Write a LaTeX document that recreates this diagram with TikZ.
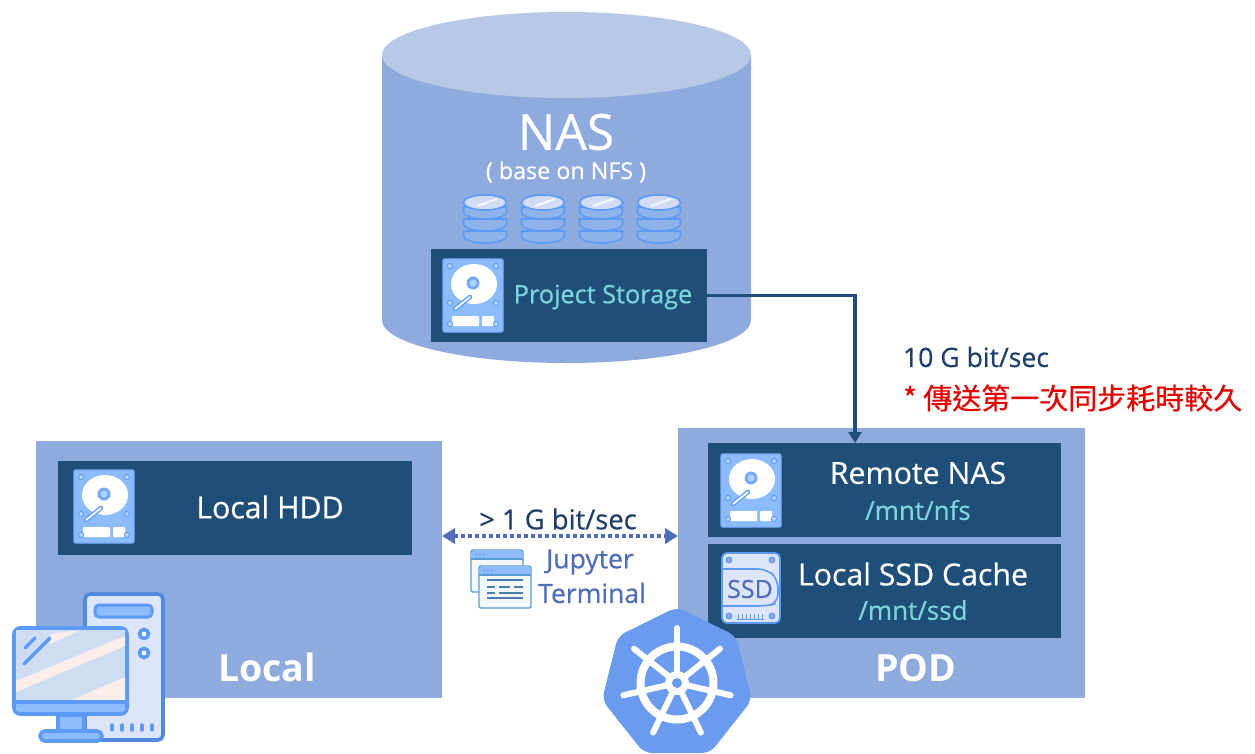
\documentclass[tikz,border=0pt]{standalone}
\usepackage{fontspec}
\setmainfont{Open Sans}
\newfontfamily\semi{Open Sans}[FakeBold=0.5]
\newfontfamily\cjk{Noto Sans CJK TC}[FakeBold=0.4]
\usetikzlibrary{arrows.meta}
\definecolor{boxblue}{HTML}{8FAADC}
\definecolor{topblue}{HTML}{B8C9E8}
\definecolor{darkbox}{HTML}{1F4E79}
\definecolor{cyantxt}{HTML}{7DD6DC}
\definecolor{iconblue}{HTML}{5B9BF5}
\definecolor{iconfill}{HTML}{8CBCFB}
\definecolor{pale}{HTML}{DDE5F8}
\definecolor{kblue}{HTML}{6A9BEE}
\definecolor{navy}{HTML}{1F3F68}
\definecolor{jup}{HTML}{4F6DB8}
\definecolor{winline}{HTML}{5A9BD5}
\definecolor{screenblue}{HTML}{CFDDF3}
\definecolor{stripe}{HTML}{FBEDE9}
\tikzset{
  panel/.style={fill=boxblue,draw=none,inner sep=0,outer sep=0},
  darkpanel/.style={fill=darkbox,draw=none,inner sep=0,outer sep=0},
  whitelabel/.style={text=white,inner sep=0,font=\semi\fontsize{30.3}{34}\selectfont},
  cyanlabel/.style={text=cyantxt,inner sep=0,font=\semi\fontsize{26}{30}\selectfont},
  biglabel/.style={text=white,inner sep=0,font=\bfseries\fontsize{37.5}{42}\selectfont},
  linklabel/.style={text=navy,inner sep=0,font=\semi\fontsize{26.6}{30}\selectfont},
  juplabel/.style={text=jup,inner sep=0,font=\semi\fontsize{26.5}{30}\selectfont},
  link/.style={draw=darkbox,line width=3.2pt,-{Triangle[length=11pt,width=13pt]}},
  dotlink/.style={draw=jup,line width=3.6pt,dash pattern=on 3.6pt off 3.4pt,
     {Triangle[length=13pt,width=15pt]}-{Triangle[length=13pt,width=15pt]}},
  pics/hddicon/.style={code={
    \fill[iconfill,draw=iconblue!80!white,line width=1.4pt,rounded corners=2pt] (0,0) rectangle (60,73);
    \fill[white] (31,25) ellipse [x radius=23,y radius=20];
    \fill[iconblue!85!white] (30,24) circle (6.5);
    \fill[iconfill!70!white] (30,24) circle (3.5);
    \draw[iconblue,line width=4.5pt,line cap=round] (27,38) -- (12,50);
    \draw[white,line width=1.8pt,line cap=round] (27,38) -- (12,50);
    \fill[white,rounded corners=1pt] (9,57) rectangle (36,67);
    \fill[white,rounded corners=1pt] (39,57) rectangle (51,67);
    \foreach \p in {(7,7),(53,7),(7,44),(53,44),(7,65),(53,65)}
      \draw[iconblue,fill=iconfill!60!white,line width=1pt] \p circle (2.6);
  }},
  pics/ssdicon/.style={code={
    \fill[pale,draw=iconblue,line width=1.8pt,rounded corners=5pt] (0,0) rectangle (58,70);
    \draw[iconblue,line width=1.6pt,rounded corners=9pt] (0,16) -- (45,16) -- (56,26) -- (56,50) -- (45,53) -- (0,53);
    \node[inner sep=0,text=jup,font=\semi\fontsize{25}{28}\selectfont] (ssdtext) at (28,36) {SSD};
    \foreach \p in {(7,7),(50,7),(7,63),(50,63)}
      \draw[iconblue,fill=boxblue,line width=1.2pt] \p circle (2.8);
    \foreach \i in {0,...,6}
      \draw[iconblue,line width=1pt] (16+\i*4,61) -- (16+\i*4,66);
    \draw[iconblue,line width=1pt] (15,66) -- (42,66);
  }},
  pics/dbicon/.style={code={
    \foreach \yy in {36,24,12}{
      \fill[iconfill!45!boxblue,draw=iconblue,line width=1.6pt] (-21.5,\yy) -- (-21.5,\yy+5)
        arc[start angle=180,end angle=0,x radius=21.5,y radius=7] -- (21.5,\yy) -- cycle;
    }
    \fill[pale!85!boxblue,draw=iconblue,line width=1.6pt] (0,7.5) ellipse [x radius=21.5,y radius=7.5];
    \draw[white!90!boxblue,line width=2pt] (-8,11) -- (12,4);
  }},
  pics/winicon/.style={code={
    \fill[white!92!winline,draw=winline,line width=1.4pt,rounded corners=1.5pt] (0,0) rectangle (52,42);
    \draw[winline,line width=1.4pt] (0,9) -- (52,9);
    \fill[iconfill] (0.7,0.7) rectangle (51.3,8.4);
    \foreach \i in {5,9,13} \fill[winline] (\i,4.5) circle (0.9);
  }},
}
\begin{document}
\begin{tikzpicture}[x=1pt,y=-1pt]
\useasboundingbox (0,0) rectangle (1255,753);
\clip (0,0) rectangle (1255,753);
\fill[white] (0,0) rectangle (1255,753);

% NAS cylinder
\fill[boxblue] (382,55) -- (382,320) arc[start angle=180,end angle=0,x radius=184.5,y radius=43] -- (751,55) -- cycle;
\fill[topblue] (566.5,55) ellipse [x radius=184.5,y radius=43];
\node[text=white,inner sep=0,font=\semi\fontsize{49.7}{56}\selectfont] (nastitle) at (566,132) {NAS};
\node[text=white,inner sep=0,font=\semi\fontsize{23.3}{27}\selectfont] (nassub) at (566,172) {( base on NFS )};
\pic (dbA) at (485,195) {dbicon};
\pic (dbB) at (543,195) {dbicon};
\pic (dbC) at (601,195) {dbicon};
\pic (dbD) at (659,195) {dbicon};
\node[darkpanel,minimum width=276pt,minimum height=93pt] (proj) at (569,295.5) {};
\pic (hddA) at (443,259) {hddicon};
\node[text=cyantxt,inner sep=0,font=\semi\fontsize{25.3}{29}\selectfont] (projlabel) at (603,297) {Project Storage};

% Local panel
\node[panel,minimum width=406pt,minimum height=257pt] (local) at (239,569.5) {};
\node[darkpanel,minimum width=354pt,minimum height=94pt] (hddbox) at (235,508) {};
\pic (hddB) at (74,470) {hddicon};
\node[whitelabel] (hddlabel) at (270,507) {Local HDD};
\node[biglabel] (locallabel) at (267,667) {Local};

% POD panel
\node[panel,minimum width=407pt,minimum height=270pt] (pod) at (881.5,563) {};
\node[darkpanel,minimum width=353pt,minimum height=94pt] (remote) at (884.5,490) {};
\node[darkpanel,minimum width=353pt,minimum height=94pt] (cache) at (884.5,591) {};
\pic (hddC) at (721,454) {hddicon};
\pic (ssd) at (722,553) {ssdicon};
\node[whitelabel] (remotelabel) at (918,473) {Remote NAS};
\node[cyanlabel] (remotepath) at (918,510) {/mnt/nfs};
\node[whitelabel] (cachelabel) at (913,574) {Local SSD Cache};
\node[cyanlabel] (cachepath) at (913,610) {/mnt/ssd};
\node[biglabel] (podlabel) at (916,668) {POD};

% Connectors
\coordinate (linkin) at (855,443);
\coordinate (localport) at (442,536);
\coordinate (podport) at (678,536);
\draw[link] (proj.east) -| (linkin);
\draw[dotlink] (localport) -- (podport);
\node[linklabel] (speedA) at (976,357) {10 G bit/sec};
\node[inner sep=0,anchor=west,text=red!90!black,font=\cjk\fontsize{29}{33}\selectfont] (note) at (903,398) {* 傳送第一次同步耗時較久};
\node[text=navy,inner sep=0,font=\semi\fontsize{27.4}{31}\selectfont] (speedB) at (558,519) {> 1 G bit/sec};

% Jupyter
\pic (winA) at (471,550) {winicon};
\pic (winB) at (479,566) {winicon};
\foreach \yy/\xa/\xb in {580/487/523,587/487/495,587/499/510,587/514/523,593/487/495,593/499/523,598/487/523}
  \draw[winline!80!black,line width=1.2pt] (\xa,\yy) -- (\xb,\yy);
\node[juplabel] (jupa) at (590,562) {Jupyter};
\node[juplabel] (jupb) at (592,593) {Terminal};

% Kubernetes
\fill[kblue,rounded corners=8pt]
  (677,607) -- (736,636) -- (752,700) -- (710,753) -- (644,753) -- (602,700) -- (618,636) -- cycle;
\draw[white,line width=8pt] (677,683) circle (36.5);
\foreach \a in {90,141.43,192.86,244.29,295.71,347.14,398.57}
  \draw[white,line width=6pt,line cap=round] (677,683) -- ++(\a:-55);
\fill[white] (677,683) circle (12);
\fill[kblue] (677,683) circle (5);

% Computer
\fill[pale,draw=iconblue!90!black,line width=3.6pt,rounded corners=5pt] (85,594) rectangle (163,740);
\draw[iconblue,fill=iconfill,line width=3pt,rounded corners=4pt] (95,605) rectangle (152,617);
\draw[iconblue,fill=white,line width=3.6pt] (144,634) circle (4.5);
\draw[iconblue,fill=white,line width=3.6pt] (144,653) circle (4.5);
\foreach \x in {112,122,132,142,152}
  \draw[iconblue,line width=3.4pt,line cap=round] (\x,725) -- (\x,730);
\fill[iconfill,draw=iconblue,line width=3.6pt] (58,715) rectangle (84,732);
\fill[iconfill,draw=iconblue,line width=3.6pt,rounded corners=5pt] (40,731) rectangle (102,741);
\fill[iconfill,draw=iconblue,line width=3.6pt,rounded corners=6pt] (14,628) rectangle (127,714);
\begin{scope}
\clip (16,630) rectangle (125,701);
\fill[screenblue] (16,630) rectangle (125,701);
\fill[stripe] (16,681) -- (125,636) -- (125,646) -- (16,692) -- cycle;
\fill[stripe] (70,701) -- (125,677) -- (125,701) -- cycle;
\fill[stripe] (50,634) -- (80,630) -- (50,644) -- cycle;
\end{scope}
\draw[iconblue,line width=3.6pt] (14,702) -- (127,702);
\draw[iconblue,line width=3.2pt,line cap=round] (25,648) -- (35,638);
\draw[iconblue,line width=3.2pt,line cap=round] (24,664) -- (50,638);
\end{tikzpicture}
\end{document}
